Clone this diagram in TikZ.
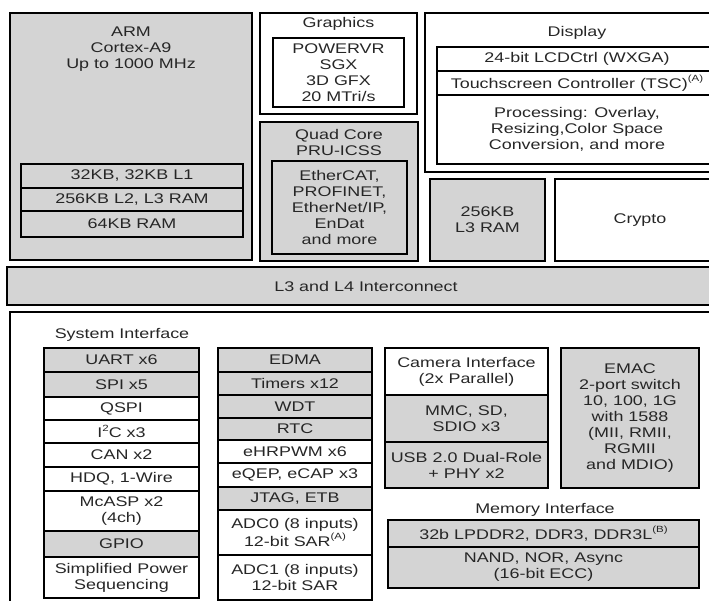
\documentclass[tikz,border=0pt]{standalone}
\usepackage{fontspec}
\setmainfont{Liberation Sans}[FakeStretch=1.28]
\usepackage{tikz}
\usetikzlibrary{positioning}
\usepackage{xcolor}
\definecolor{chipgray}{HTML}{D4D4D4}
\newcommand{\fnote}[1]{\raisebox{0.5em}{\fontsize{9}{9}\selectfont(#1)}}
\newcommand{\sqtwo}{\raisebox{0.45em}{\fontsize{9}{9}\selectfont 2}}
\begin{document}
\begin{tikzpicture}[x=1pt,y=-1pt]
\useasboundingbox (0,0) rectangle (709,601);
\clip (0,0) rectangle (709,601);
\tikzstyle{every node}=[font=\fontsize{14}{16}\selectfont, text=black!85]
\tikzstyle{frame}=[draw, line width=2.4pt, inner sep=0pt]
\tikzstyle{cell}=[draw, line width=1.3pt, inner sep=0pt, align=center]
\tikzstyle{shaded}=[fill=chipgray]
\tikzstyle{txt}=[align=center, inner sep=0pt]
% top row
\node[frame, shaded, minimum width=242pt, minimum height=247pt] (arm) at (131,136.5) {};
\node[txt] (armt) at (131,49) {ARM\\Cortex-A9\\Up to 1000 MHz};
\node[cell, shaded, minimum width=222pt, minimum height=24pt] (l1) at (132,176) {32KB, 32KB L1};
\node[cell, shaded, minimum width=222pt, minimum height=23pt] (l2) at (132,199.5) {256KB L2, L3 RAM};
\node[cell, shaded, minimum width=222pt, minimum height=26pt] (ram) at (132,224) {64KB RAM};
\node[frame, minimum width=157pt, minimum height=101pt] (gfx) at (338.5,63.5) {};
\node[txt] (gfxt) at (338.5,24) {Graphics};
\node[cell, minimum width=131pt, minimum height=69pt] (sgx) at (338.5,72.5) {POWERVR\\SGX\\3D GFX\\20 MTri/s};
\node[frame, shaded, minimum width=158pt, minimum height=139pt] (pru) at (339,191.5) {};
\node[txt] (prut) at (339,142.5) {Quad Core\\PRU-ICSS};
\node[cell, shaded, minimum width=135pt, minimum height=93pt] (proto) at (339.5,207.5) {EtherCAT,\\PROFINET,\\EtherNet/IP,\\EnDat\\and more};
\node[frame, minimum width=310pt, minimum height=159pt] (disp) at (580,92.5) {};
\node[txt] (dispt) at (577,33) {Display};
\node[cell, minimum width=280pt, minimum height=24pt] (lcd) at (577,59) {24-bit LCDCtrl (WXGA)};
\node[cell, minimum width=280pt, minimum height=24pt] (tsc) at (577,83) {Touchscreen Controller (TSC)\fnote{A}};
\node[cell, minimum width=280pt, minimum height=69pt] (proc) at (577,129.5) {Processing: Overlay,\\Resizing,Color Space\\Conversion, and more};
\node[frame, shaded, align=center, minimum width=115pt, minimum height=82pt] (l3ram) at (487.5,220) {256KB\\L3 RAM};
\node[frame, minimum width=170pt, minimum height=82pt] (crypto) at (640,220) {Crypto};
% interconnect
\node[frame, shaded, minimum width=728pt, minimum height=38pt] (bus) at (371,286) {};
\node[txt] (bust) at (366,286) {L3 and L4 Interconnect};
% peripherals
\node[frame, minimum width=725pt, minimum height=328pt] (periph) at (372.5,476) {};
\node[txt] (syst) at (122,335) {System Interface};
\node[cell, shaded, minimum width=155pt, minimum height=24pt] (uart) at (121.5,360) {UART x6};
\node[cell, shaded, minimum width=155pt, minimum height=25pt] (spi) at (121.5,384.5) {SPI x5};
\node[cell, minimum width=155pt, minimum height=23pt] (qspi) at (121.5,408.5) {QSPI};
\node[cell, minimum width=155pt, minimum height=23pt] (iic) at (121.5,431.5) {I\sqtwo C x3};
\node[cell, minimum width=155pt, minimum height=24pt] (can) at (121.5,455) {CAN x2};
\node[cell, minimum width=155pt, minimum height=24pt] (hdq) at (121.5,479) {HDQ, 1-Wire};
\node[cell, minimum width=155pt, minimum height=40pt] (mcasp) at (121.5,511) {McASP x2\\(4ch)};
\node[cell, shaded, minimum width=155pt, minimum height=26pt] (gpio) at (121.5,544) {GPIO};
\node[cell, minimum width=155pt, minimum height=41pt] (pwr) at (121.5,577.5) {Simplified Power\\Sequencing};
\node[cell, shaded, minimum width=154pt, minimum height=24pt] (edma) at (295,360) {EDMA};
\node[cell, shaded, minimum width=154pt, minimum height=23pt] (timer) at (295,383.5) {Timers x12};
\node[cell, shaded, minimum width=154pt, minimum height=23pt] (wdt) at (295,406.5) {WDT};
\node[cell, shaded, minimum width=154pt, minimum height=22pt] (rtc) at (295,429) {RTC};
\node[cell, minimum width=154pt, minimum height=23pt] (pwm) at (295,451.5) {eHRPWM x6};
\node[cell, minimum width=154pt, minimum height=24pt] (qep) at (295,475) {eQEP, eCAP x3};
\node[cell, shaded, minimum width=154pt, minimum height=23pt] (jtag) at (295,498.5) {JTAG, ETB};
\node[cell, minimum width=154pt, minimum height=45pt] (adc0) at (295,532.5) {ADC0 (8 inputs)\\12-bit SAR\fnote{A}};
\node[cell, minimum width=154pt, minimum height=45pt] (adc1) at (295,577.5) {ADC1 (8 inputs)\\12-bit SAR};
\node[cell, minimum width=163pt, minimum height=47pt] (cam) at (466.5,371.5) {Camera Interface\\(2x Parallel)};
\node[cell, shaded, minimum width=163pt, minimum height=47pt] (mmc) at (466.5,418.5) {MMC, SD,\\SDIO x3};
\node[cell, shaded, minimum width=163pt, minimum height=46pt] (usb) at (466.5,465) {USB 2.0 Dual-Role\\+ PHY x2};
\node[cell, shaded, minimum width=138pt, minimum height=140pt] (emac) at (630,418) {EMAC\\2-port switch\\10, 100, 1G\\with 1588\\(MII, RMII,\\RGMII\\and MDIO)};
\node[txt] (memt) at (545,510) {Memory Interface};
\node[cell, shaded, minimum width=311pt, minimum height=27pt] (ddr) at (543.5,533.5) {32b LPDDR2, DDR3, DDR3L\fnote{B}};
\node[cell, shaded, minimum width=311pt, minimum height=41pt] (nand) at (543.5,567.5) {NAND, NOR, Async\\(16-bit ECC)};
\end{tikzpicture}
\end{document}
